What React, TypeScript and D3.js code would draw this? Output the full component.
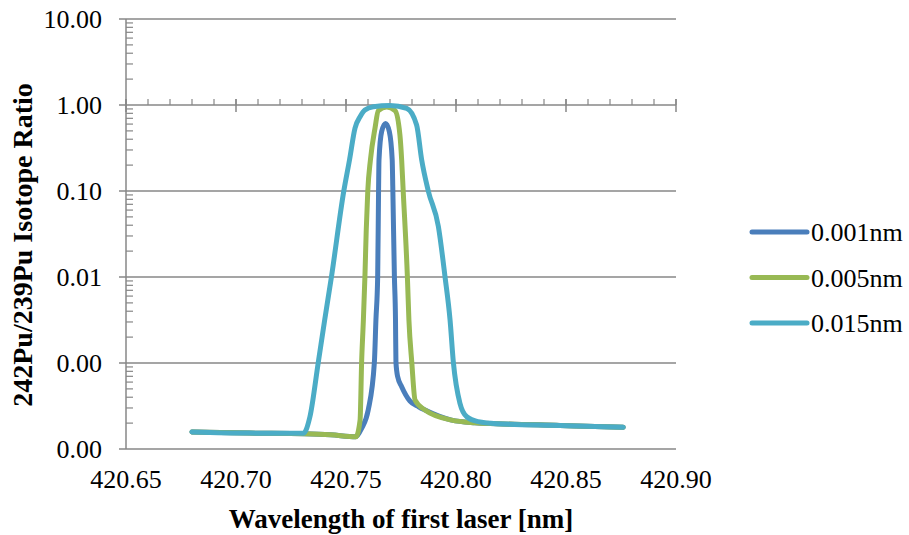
import React, { useRef, useEffect } from "react";
import * as d3 from "d3";

// series names (legend order)
const seriesNames = ["0.001nm", "0.005nm", "0.015nm"];
const seriesColors = ["#4A7EBB", "#98B954", "#4BACC6"];

// 0.001nm
const wl001 = [
  420.68, 420.706, 420.731, 420.743, 420.7545, 420.7571, 420.7601, 420.7629, 420.7636,
  420.7644, 420.7648, 420.765, 420.7662, 420.768, 420.7697, 420.771, 420.7713, 420.772,
  420.7725, 420.7727, 420.7735, 420.7753, 420.7791, 420.783, 420.7859, 420.798, 420.8086,
  420.8185, 420.8473, 420.876,
];
const ratio001 = [
  1.58e-4, 1.53e-4, 1.5e-4, 1.46e-4, 1.39e-4, 1.74e-4, 2.84e-4, 1.02e-3, 3.16e-3,
  0.0101, 0.1, 0.23, 0.49, 0.61, 0.49, 0.23, 0.1, 0.0101,
  3.16e-3, 1.02e-3, 6.9e-4, 5.3e-4, 3.6e-4, 3.1e-4, 2.84e-4, 2.17e-4, 2.02e-4,
  1.97e-4, 1.88e-4, 1.79e-4,
];

// 0.005nm
const wl005 = [
  420.68, 420.706, 420.731, 420.743, 420.7545, 420.7564, 420.7571, 420.7579, 420.7586,
  420.7592, 420.7599, 420.7611, 420.7632, 420.7647, 420.7685, 420.7723, 420.7745, 420.7753,
  420.776, 420.7779, 420.7786, 420.7799, 420.7814, 420.7859, 420.798, 420.8086, 420.8185,
  420.8473, 420.876,
];
const ratio005 = [
  1.58e-4, 1.53e-4, 1.5e-4, 1.46e-4, 1.39e-4, 2.17e-4, 1.02e-3, 3.16e-3, 0.0101,
  0.035, 0.1, 0.23, 0.54, 0.86, 0.95, 0.86, 0.45, 0.23,
  0.1, 0.0101, 3.16e-3, 1.02e-3, 3.7e-4, 2.84e-4, 2.17e-4, 2.02e-4, 1.97e-4,
  1.88e-4, 1.79e-4,
];

// 0.015nm
const wl015 = [
  420.68, 420.706, 420.7306, 420.7336, 420.7374, 420.7403, 420.7434, 420.749, 420.7516,
  420.7541, 420.7564, 420.7586, 420.7624, 420.77, 420.7776, 420.7821, 420.7844, 420.7874,
  420.792, 420.795, 420.7973, 420.7988, 420.8018, 420.8049, 420.8101, 420.8185, 420.8473,
  420.876,
];
const ratio015 = [
  1.58e-4, 1.53e-4, 1.52e-4, 2.37e-4, 1.02e-3, 3.16e-3, 0.0101, 0.1, 0.23,
  0.54, 0.73, 0.875, 0.955, 0.99, 0.915, 0.585, 0.23, 0.1,
  0.0385, 0.0101, 3.16e-3, 1.02e-3, 3.4e-4, 2.37e-4, 2.08e-4, 1.97e-4, 1.88e-4,
  1.79e-4,
];

const xTicks = [420.65, 420.7, 420.75, 420.8, 420.85, 420.9];
const yTicks = [10, 1, 0.1, 0.01, 0.001, 0.0001];

const App = () => {
  const svgRef = useRef<SVGSVGElement>(null);

  useEffect(() => {
    const width = 909;
    const height = 535;
    const margin = { top: 19, right: 233, bottom: 86, left: 126 };
    const grey = "#878787";
    const font = "'Liberation Serif', 'Times New Roman', serif";

    const svg = d3.select(svgRef.current).attr("width", width).attr("height", height);
    svg.selectAll("*").remove();

    const x = d3
      .scaleLinear()
      .domain([420.65, 420.9])
      .range([margin.left, width - margin.right]);
    const y = d3
      .scaleLog()
      .domain([0.0001, 10])
      .range([height - margin.bottom, margin.top]);

    // gridlines (one per decade)
    svg
      .selectAll(".grid")
      .data(yTicks)
      .enter()
      .append("line")
      .attr("x1", margin.left - 7)
      .attr("x2", x(420.9))
      .attr("y1", (d) => y(d))
      .attr("y2", (d) => y(d))
      .attr("stroke", grey)
      .attr("stroke-width", 1.5);

    // y axis line + minor ticks
    svg
      .append("line")
      .attr("x1", margin.left)
      .attr("x2", margin.left)
      .attr("y1", y(10))
      .attr("y2", y(0.0001))
      .attr("stroke", grey)
      .attr("stroke-width", 1.5);

    const minor: number[] = [];
    [0.0001, 0.001, 0.01, 0.1, 1].forEach((dec) => {
      for (let k = 2; k <= 9; k++) minor.push(dec * k);
    });
    svg
      .selectAll(".yminor")
      .data(minor)
      .enter()
      .append("line")
      .attr("x1", margin.left)
      .attr("x2", margin.left + 7)
      .attr("y1", (d) => y(d))
      .attr("y2", (d) => y(d))
      .attr("stroke", grey)
      .attr("stroke-width", 1.2);

    svg
      .selectAll(".ylabel")
      .data(yTicks)
      .enter()
      .append("text")
      .attr("x", 102)
      .attr("y", (d) => y(d) + 9)
      .attr("text-anchor", "end")
      .style("font-family", font)
      .style("font-size", "26px")
      .text((d) => d3.format(".2f")(d));

    // x axis crosses at 1.0
    const axisY = y(1);
    const xMinor = d3.range(0, 26).map((i) => 420.65 + i * 0.01);
    svg
      .selectAll(".xminor")
      .data(xMinor)
      .enter()
      .append("line")
      .attr("x1", (d) => x(d))
      .attr("x2", (d) => x(d))
      .attr("y1", axisY - 6)
      .attr("y2", axisY)
      .attr("stroke", grey)
      .attr("stroke-width", 1.2);
    svg
      .selectAll(".xmajor")
      .data(xTicks)
      .enter()
      .append("line")
      .attr("x1", (d) => x(d))
      .attr("x2", (d) => x(d))
      .attr("y1", axisY - 6)
      .attr("y2", axisY + 7)
      .attr("stroke", grey)
      .attr("stroke-width", 1.5);

    svg
      .selectAll(".xlabel")
      .data(xTicks)
      .enter()
      .append("text")
      .attr("x", (d) => x(d))
      .attr("y", 488)
      .attr("text-anchor", "middle")
      .style("font-family", font)
      .style("font-size", "26px")
      .text((d) => d3.format(".2f")(d));

    // titles
    svg
      .append("text")
      .attr("x", 401)
      .attr("y", 528)
      .attr("text-anchor", "middle")
      .style("font-family", font)
      .style("font-size", "27px")
      .style("font-weight", "bold")
      .text("Wavelength of first laser [nm]");

    svg
      .append("text")
      .attr("transform", "translate(32,245) rotate(-90)")
      .attr("text-anchor", "middle")
      .style("font-family", font)
      .style("font-size", "28px")
      .style("font-weight", "bold")
      .text("242Pu/239Pu Isotope Ratio");

    // lines
    const series = [
      { wl: wl001, ratio: ratio001 },
      { wl: wl005, ratio: ratio005 },
      { wl: wl015, ratio: ratio015 },
    ];
    const line = d3
      .line<[number, number]>()
      .x((d) => x(d[0]))
      .y((d) => y(d[1]))
      .curve(d3.curveMonotoneX);

    series.forEach((s, i) => {
      const pts = s.wl.map((w, j) => [w, s.ratio[j]] as [number, number]);
      svg
        .append("path")
        .datum(pts)
        .attr("fill", "none")
        .attr("stroke", seriesColors[i])
        .attr("stroke-width", 5)
        .attr("stroke-linecap", "round")
        .attr("stroke-linejoin", "round")
        .attr("d", line);
    });

    // legend
    const legend = svg
      .selectAll(".legend")
      .data(seriesNames)
      .enter()
      .append("g")
      .attr("transform", (_, i) => `translate(752, ${232 + i * 45.5})`);
    legend
      .append("line")
      .attr("x1", 0)
      .attr("x2", 55)
      .attr("stroke", (_, i) => seriesColors[i])
      .attr("stroke-width", 5)
      .attr("stroke-linecap", "round");
    legend
      .append("text")
      .attr("x", 59)
      .attr("y", 9)
      .style("font-family", font)
      .style("font-size", "26px")
      .text((d) => d);
  }, []);

  return <svg ref={svgRef} style={{ position: "absolute", left: 0, top: 0 }}></svg>;
};

export default App;
